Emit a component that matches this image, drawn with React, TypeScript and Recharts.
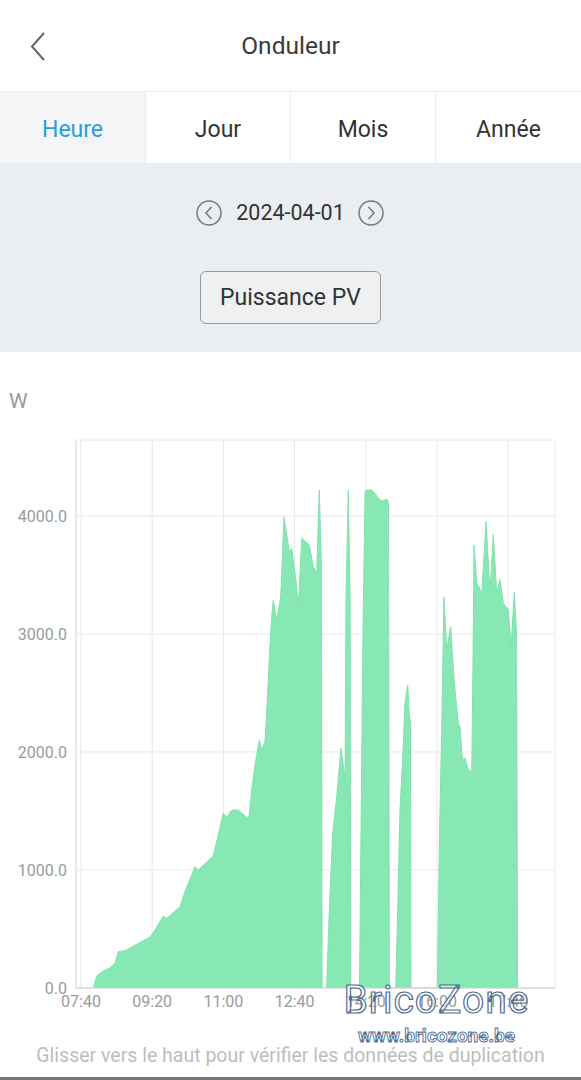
import React from "react";
import { AreaChart, Area, XAxis, YAxis, CartesianGrid } from "recharts";

// time in minutes since midnight, power in W
const times: number[] = [
  477.3, 482, 490, 500.7, 507.8, 512.4, 521.8, 556.9, 563.9, 575.6, 580.4, 599, 606, 620, 624.7, 645.8, 659.9, 664.6, 671.7,
  680.9, 692.7, 696, 699.8, 704.4, 710.4, 713.8, 718.4, 721.7, 724.5, 727.8, 730.1, 734.9, 740.5, 745.1, 752.6, 756,
  762, 765.2, 770, 780.6, 786.3, 791, 794.7, 797.6, 798.6,
  805, 808.7, 813.5, 819.1, 825.1, 829.4, 830.9, 832.2, 835.4, 838, 838.7,
  851.1, 856, 858.9, 861, 868.3, 872.9, 877.6, 882.3, 890.2, 891.9, 893,
  902, 904.2, 908, 912.2, 915, 918.8, 920.6, 922.7, 923.4,
  960.4, 963.8, 966.6, 969.8, 973.6, 979.2, 983.9, 989.9, 992.3, 995.6, 999.4, 1004, 1008.8, 1010.6, 1012, 1015.8,
  1019, 1022.8, 1028.8, 1034.5, 1039.1, 1043.9, 1048.5, 1053.1, 1060.2, 1064, 1068.6, 1071.7, 1073.1,
];
const power: number[] = [
  0, 102, 140, 170, 212, 308, 316, 432, 491, 610, 590, 689, 816, 1028, 1000, 1119, 1480, 1449, 1508,
  1508, 1447, 1449, 1678, 1890, 2102, 2017, 2087, 2440, 2808, 3147, 3288, 3119, 3316, 3989, 3697, 3726,
  3444, 3231, 3811, 3754, 3570, 3514, 4220, 3600, 0,
  0, 661, 1311, 1621, 2033, 1847, 1750, 3300, 4220, 3300, 0,
  0, 3000, 4200, 4220, 4220, 4190, 4150, 4130, 4140, 4100, 0,
  0, 520, 1500, 2000, 2415, 2568, 2350, 2250, 0,
  0, 1400, 2200, 3316, 2864, 3062, 2610, 2243, 2215, 1932, 1949, 1847, 1833, 2800, 3754, 3430,
  3400, 3331, 3952, 3359, 3839, 3345, 3463, 3260, 3203, 2892, 3359, 3000, 0,
];
const xTicks: number[] = [460, 560, 660, 760, 860, 960, 1060];
const yTicks: number[] = [0, 1000, 2000, 3000, 4000];
const tabs: string[] = ["Heure", "Jour", "Mois", "Année"];

const data = times.map((t, i) => ({ t, v: power[i] }));

const fmtTime = (m: number) => {
  const h = Math.floor(m / 60);
  const mm = Math.round(m - h * 60);
  return `${String(h).padStart(2, "0")}:${String(mm).padStart(2, "0")}`;
};

const FONT = "Roboto, 'Noto Sans', sans-serif";

export default function App() {
  return (
    <div
      style={{
        position: "absolute",
        left: 0,
        top: 0,
        width: 581,
        height: 1080,
        background: "#ffffff",
        fontFamily: FONT,
        overflow: "hidden",
      }}
    >
      {/* header */}
      <svg style={{ position: "absolute", left: 0, top: 0 }} width={581} height={352}>
        <polyline points="44,33 32,46.5 44,60" fill="none" stroke="#666" strokeWidth={2} />
      </svg>
      <div style={{ position: "absolute", left: 0, top: 31, width: 581, textAlign: "center", fontSize: 24.5, lineHeight: "30px", color: "#3a3a3a" }}>
        Onduleur
      </div>
      {/* tabs */}
      <div style={{ position: "absolute", left: 0, top: 91, width: 581, height: 72, borderTop: "1px solid #ececec", boxSizing: "border-box", display: "flex" }}>
        {tabs.map((t, i) => (
          <div
            key={t}
            style={{
              width: i === 3 ? 146 : 145,
              height: 71,
              background: i === 0 ? "#f3f5f7" : "#ffffff",
              borderLeft: i === 0 ? "none" : "1px solid #ececec",
              boxSizing: "border-box",
              display: "flex",
              alignItems: "center",
              justifyContent: "center",
              fontSize: 23,
              color: i === 0 ? "#2a9fd8" : "#333",
              paddingTop: 3,
            }}
          >
            {t}
          </div>
        ))}
      </div>
      {/* grey panel */}
      <div style={{ position: "absolute", left: 0, top: 163, width: 581, height: 189, background: "#ebeef1" }} />
      <svg style={{ position: "absolute", left: 0, top: 0 }} width={581} height={352}>
        <circle cx={209} cy={213} r={12} fill="none" stroke="#777" strokeWidth={1.5} />
        <polyline points="211.5,207 206,213 211.5,219" fill="none" stroke="#777" strokeWidth={1.5} />
        <circle cx={371} cy={213} r={12} fill="none" stroke="#777" strokeWidth={1.5} />
        <polyline points="368.5,207 374,213 368.5,219" fill="none" stroke="#777" strokeWidth={1.5} />
      </svg>
      <div style={{ position: "absolute", left: 0, top: 199, width: 581, textAlign: "center", fontSize: 21.5, lineHeight: "28px", color: "#333" }}>
        2024-04-01
      </div>
      <div
        style={{
          position: "absolute",
          left: 200,
          top: 271,
          width: 181,
          height: 53,
          border: "1px solid #9a9a9a",
          borderRadius: 6,
          boxSizing: "border-box",
          background: "#eef0f2",
          display: "flex",
          alignItems: "center",
          justifyContent: "center",
          fontSize: 23,
          color: "#333",
        }}
      >
        Puissance PV
      </div>
      {/* unit */}
      <div style={{ position: "absolute", left: 9, top: 388, fontSize: 21, lineHeight: "26px", color: "#999" }}>W</div>
      {/* chart */}
      <div style={{ position: "absolute", left: 0, top: 430 }}>
        <AreaChart width={581} height={600} data={data} margin={{ top: 10, right: 26, left: 0, bottom: 12 }}>
          <CartesianGrid stroke="#e8e8e8" strokeWidth={1} />
          <XAxis
            dataKey="t"
            type="number"
            domain={[453, 1125.7]}
            ticks={xTicks}
            tickFormatter={fmtTime}
            allowDataOverflow
            height={30}
            tickSize={0}
            tickMargin={8}
            tickLine={false}
            axisLine={{ stroke: "#cfcfcf" }}
            tick={{ fill: "#9a9a9a", fontSize: 16, fontFamily: FONT }}
            interval={0}
          />
          <YAxis
            type="number"
            domain={[0, 4644]}
            ticks={yTicks}
            tickFormatter={(v: number) => v.toFixed(1)}
            allowDataOverflow
            width={76}
            tickSize={0}
            tickMargin={9}
            tickLine={false}
            axisLine={{ stroke: "#dedede" }}
            tick={{ fill: "#9a9a9a", fontSize: 16, fontFamily: FONT }}
            interval={0}
          />
          <Area
            type="linear"
            dataKey="v"
            stroke="#80e2ad"
            strokeWidth={1}
            fill="#88e8b4"
            fillOpacity={1}
            isAnimationActive={false}
            dot={false}
            activeDot={false}
          />
        </AreaChart>
      </div>
      {/* watermark */}
      <svg style={{ position: "absolute", left: 0, top: 960 }} width={581} height={100}>
        <text x={436.5} y={53} textAnchor="middle" fontSize={39} letterSpacing={1} fontFamily={FONT} fill="rgba(255,255,255,0.6)" stroke="#4f6c94" strokeWidth={1.2}>
          BricoZone
        </text>
        <text x={436.5} y={82} textAnchor="middle" fontSize={19} fontWeight="bold" fontFamily={FONT} fill="rgba(255,255,255,0.6)" stroke="#4f6c94" strokeWidth={0.9}>
          www.bricozone.be
        </text>
      </svg>
      <div style={{ position: "absolute", left: 0, top: 1043, width: 581, textAlign: "center", fontSize: 19.5, lineHeight: "26px", color: "#bdbdbd" }}>
        Glisser vers le haut pour vérifier les données de duplication
      </div>
      <div style={{ position: "absolute", left: 0, top: 1077, width: 581, height: 3, background: "#777" }} />
    </div>
  );
}
